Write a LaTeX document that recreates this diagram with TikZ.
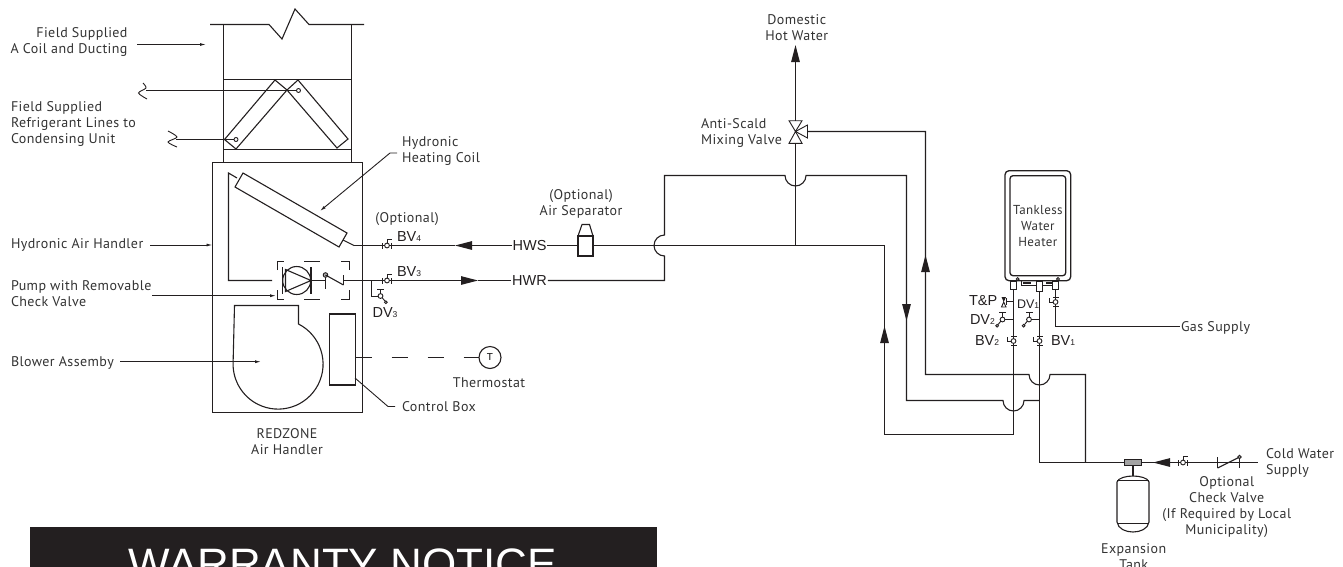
\documentclass[tikz,border=0pt]{standalone}
\usepackage{fontspec}
\setmainfont{Liberation Sans}
\newfontfamily\lblfont[LetterSpace=3.0]{PT Sans}
\usetikzlibrary{arrows.meta}
\definecolor{ink}{HTML}{231F20}
\definecolor{lblgrey}{HTML}{333333}
\tikzset{
    pipe/.style={line width=1.1pt,draw=ink},
    fine/.style={line width=0.9pt,draw=ink},
    leader/.style={fine,-{Latex[length=6pt,width=3pt]}},
    flowtip/.style={pipe,-{Triangle[length=17pt,width=8.5pt]}},
    lbl/.style={font=\lblfont\fontsize{14}{16}\selectfont,text=lblgrey,inner sep=0pt,outer sep=1pt,yshift=-1.5pt},
    vlbl/.style={font=\fontsize{14.5}{16}\selectfont,text=ink,inner sep=0pt,outer sep=1pt},
    ballvalve/.pic={
        \draw[fine] (-4.5,-3) -- (-4.5,3);
        \draw[fine] (4.5,-3) -- (4.5,3);
        \draw[fine,fill=white] (0,0) circle (2.4);
        \draw[fine] (0,2.4) -- (0,6.5) -- (4.5,6.5);
    },
    drainvalve/.pic={
        \draw[fine] (0,2.4) -- (0,7);
        \draw[fine] (-3.5,7) -- (3.5,7);
        \draw[fine,fill=white] (0,0) circle (2.4);
        \draw[fine] (1.7,-1.7) -- (4.6,-5.2);
        \draw[fine,fill=white] (5.4,-6.2) circle (1.4);
    }
}
\newcommand{\sub}[1]{{\fontsize{8.5}{8.5}\selectfont #1}}
\begin{document}
\begin{tikzpicture}[x=1pt,y=1pt]
    \useasboundingbox (0,0) rectangle (1343,-566);
    \clip (0,0) rectangle (1343,-566);

    % duct and A coil
    \draw[pipe] (210,-24.5) -- (269,-24.5) -- (282,-39) -- (295,-9) -- (309,-24.5) -- (364,-24.5);
    \draw[pipe] (223.5,-24.5) -- (223.5,-163);
    \draw[pipe] (351.5,-24.5) -- (351.5,-163);
    \draw[fine] (223.5,-79.5) -- (351.5,-79.5);
    \draw[fine] (223.5,-149.5) -- (351.5,-149.5);
    \draw[pipe] (287,-90) -- (275,-80) -- (224.5,-139.5) -- (236,-149) -- (287,-90);
    \draw[pipe] (287,-90) -- (298,-80) -- (348,-139) -- (337,-148) -- (287,-90);
    \draw[fine] (298.5,-90.5) circle (2);
    \draw[fine] (236,-139.5) circle (2);
    \draw[fine] plot[smooth] coordinates {(143,-83) (146,-88) (138.5,-93) (147,-99)};
    \draw[fine] plot[smooth] coordinates {(168,-131) (177,-137) (168,-142) (177,-147)};
    \draw[fine] (146,-90.5) -- (296.5,-90.5);
    \draw[fine] (176,-139.5) -- (234,-139.5);

    % air handler
    \node[draw=ink,line width=1.1pt,minimum width=150pt,minimum height=250pt,inner sep=0pt,outer sep=0pt] (handler) at (287.5,-287.5) {};
    \draw[pipe] (243,-173) -- (347,-233) -- (339,-247) -- (235,-187) -- cycle;
    \draw[pipe] (237,-178) -- (228.5,-173) -- (228.5,-280.5) -- (272,-280.5);
    \draw[pipe] (343,-240) -- (354,-245.5);
    \draw[pipe] (234.5,-305.5) -- (298.5,-305.5) -- (298.5,-324) arc[start angle=63,end angle=-180,radius=45] -- cycle;
    \node[draw=ink,line width=1.1pt,minimum width=26pt,minimum height=71pt,inner sep=0pt,outer sep=0pt] (ctrlbox) at (342.5,-349.5) {};
    \node[circle,draw=ink,line width=1.1pt,minimum size=22pt,inner sep=0pt,outer sep=0pt,font=\fontsize{10}{10}\selectfont] (tstat) at (490,-357.5) {T};
    \draw[pipe,dash pattern=on 16pt off 20pt] (ctrlbox.east |- tstat) -- (tstat.west);

    % pump and check valve
    \draw[fine] (277.5,-270) -- (277.5,-261.5) -- (284,-261.5);
    \draw[fine] (304,-261.5) -- (320,-261.5);
    \draw[fine] (341,-261.5) -- (349.5,-261.5) -- (349.5,-270);
    \draw[fine] (277.5,-290) -- (277.5,-299.5) -- (284,-299.5);
    \draw[fine] (304,-299.5) -- (320,-299.5);
    \draw[fine] (341,-299.5) -- (349.5,-299.5) -- (349.5,-290);
    \draw[pipe] (296.7,-280.5) circle (14);
    \draw[pipe] (282.5,-267) -- (282.5,-294);
    \draw[pipe] (311,-267) -- (311,-294);
    \draw[pipe] (285.5,-269.5) -- (311,-280.5) -- (285.5,-291.5) -- cycle;
    \draw[pipe] (311,-280.5) -- (325,-280.5);
    \draw[pipe] (325.5,-275) -- (325.5,-289);
    \draw[fine,fill=lblgrey!40] (325.5,-275) circle (2.3);
    \draw[pipe] (325.5,-275) -- (343.5,-285);
    \draw[pipe] (343.5,-275) -- (343.5,-285);

    % supply and return to the heater
    \coordinate (bvfour) at (387,-245.5);
    \coordinate (bvthree) at (387,-280.5);
    \coordinate (hwstip) at (455,-245.5);
    \coordinate (hwrtip) at (478,-280.5);
    \node[vlbl] (hws) at (529.5,-245.5) {HWS};
    \node[vlbl] (hwr) at (529.5,-280.5) {HWR};
    \node[draw=ink,line width=1.1pt,minimum width=15pt,minimum height=20pt,inner sep=0pt,outer sep=0pt] (sep) at (585.5,-246) {};
    \draw[pipe] (sep.north west) -- (582,-224.5) -- (589.5,-224.5) -- (sep.north east);
    \draw[flowtip] (hws.west) -- (hwstip);
    \draw[pipe] (hwstip) -- (354,-245.5);
    \draw[pipe] (343.5,-280.5) -- (bvthree);
    \draw[flowtip] (bvthree) -- (hwrtip);
    \draw[pipe] (hwrtip) -- (hwr.west);
    \draw[pipe] (hws.east) -- (sep.west |- hws);
    \coordinate (hwjoin) at (795.5,-245.5);
    \coordinate (hwcorner) at (884.5,-245.5);
    \coordinate (tpipe) at (1013.5,-434.5);
    \draw[pipe] (sep.east |- hws) -- (hwjoin) -- (hwcorner) -- (884.5,-434.5) -- (tpipe);
    \draw[flowtip] (884.5,-343) -- (884.5,-326);
    \draw[pipe] (hwr.east) -- (664.5,-280.5) -- (664.5,-256) arc[start angle=270,end angle=90,radius=10.5] -- (664.5,-175.5) -- (785,-175.5) arc[start angle=180,end angle=360,radius=10.5] -- (906.5,-175.5) -- (906.5,-400.5) -- (1003,-400.5) arc[start angle=180,end angle=360,radius=10.5] -- (1039.5,-400.5);
    \draw[flowtip] (906.5,-304) -- (906.5,-321);

    % mixing valve
    \coordinate (mixvalve) at (795.5,-131.5);
    \coordinate (dhwtip) at (795.5,-45);
    \draw[flowtip] (795.5,-120.7) -- (dhwtip);
    \draw[pipe] (795.5,-143.3) -- (hwjoin);
    \draw[fine] (mixvalve) -- (789,-120.7) -- (802,-120.7) -- cycle;
    \draw[fine] (mixvalve) -- (789,-143.3) -- (802,-143.3) -- cycle;
    \draw[fine] (mixvalve) -- (807.5,-125) -- (807.5,-138) -- cycle;
    \draw[pipe] (807.5,-131.5) -- (925.5,-131.5) -- (925.5,-374.5) -- (1029,-374.5) arc[start angle=180,end angle=360,radius=10.5] -- (1085.5,-374.5) -- (1085.5,-462.5);
    \draw[flowtip] (925.5,-272) -- (925.5,-255);

    % water heater
    \node[draw=ink,line width=1.3pt,rounded corners=4pt,minimum width=65.7pt,minimum height=110pt,inner sep=0pt,outer sep=0pt] (heater) at (1037.85,-225.7) {};
    \node[draw=ink,line width=1.3pt,rounded corners=3pt,minimum width=55.7pt,minimum height=100pt,inner sep=0pt,outer sep=0pt,align=center,font=\lblfont\fontsize{13}{16}\selectfont,text=lblgrey] (tankless) at (heater) {Tankless\\Water\\Heater};
    \node[fill=white,draw=ink,line width=0.9pt,minimum width=5.7pt,minimum height=7.5pt,inner sep=0pt,outer sep=0pt] (fitl) at (1013.5,-285.2) {};
    \node[fill=white,draw=ink,line width=0.9pt,minimum width=6pt,minimum height=10pt,inner sep=0pt,outer sep=0pt] (fitc) at (1039.5,-286) {};
    \node[fill=white,draw=ink,line width=0.9pt,minimum width=5.3pt,minimum height=7.5pt,inner sep=0pt,outer sep=0pt] (fitr) at (1055.5,-285.2) {};
    \draw[fine] (1017.7,-279) circle (1.4);
    \draw[fine] (1058,-279) circle (1.4);
    \draw[fine] (1021.7,-281) -- (1021.7,-285) -- (fitc.west |- 1021.7,-285);
    \draw[fine] (fitc.east |- 1042,-285) -- (1052,-285);
    \fill[ink] (1023,-281.5) rectangle (1031,-283.5);
    \fill[ink] (1046,-281.5) rectangle (1052,-283.5);
    \coordinate (gasend) at (1180,-326.5);
    \draw[pipe] (fitl.south) -- (tpipe);
    \draw[pipe] (fitc.south) -- (1039.5,-462.5);
    \draw[pipe] (fitr.south) -- (1055.5,-326.5) -- (gasend);
    \draw[pipe] (1039.5,-462.5) -- (1258,-462.5);
    \draw[fine] (1013.5,-319.5) -- (1002.5,-319.5);
    \draw[fine] (1039.5,-319.5) -- (1029,-319.5);
    \draw[fine] (1013.5,-301.7) -- (1006,-301.7);
    \draw[fine] (1006,-298) -- (1006,-305);
    \fill[ink] (1001.5,-297) -- (1006,-297) -- (1003.7,-302) -- cycle;
    \draw[fine] (1001.5,-307) -- (1006,-307) -- (1003.7,-302) -- cycle;

    % valves
    \pic at (bvfour) {ballvalve};
    \pic at (bvthree) {ballvalve};
    \pic at (1183,-462.5) {ballvalve};
    \pic[rotate=90] at (1055.5,-302) {ballvalve};
    \pic[rotate=90] at (1013.5,-341) {ballvalve};
    \pic[rotate=90] at (1039.5,-341) {ballvalve};
    \draw[fine] (371.5,-280.5) -- (371.5,-296) -- (380.5,-296);
    \pic at (380.5,-296) {drainvalve};
    \pic[xscale=-1] at (1002.5,-319.5) {drainvalve};
    \pic[xscale=-1] at (1029,-319.5) {drainvalve};

    % check valve on the cold water line
    \draw[pipe] (1217.5,-457) -- (1217.5,-468);
    \draw[pipe] (1217.5,-468) -- (1239.5,-457);
    \draw[pipe] (1239.5,-457) -- (1239.5,-468);
    \draw[fine,fill=lblgrey!40] (1239.5,-457) circle (1.8);
    \coordinate (cwtip) at (1153,-462.5);
    \draw[flowtip] (1170,-462.5) -- (cwtip);

    % expansion tank
    \node[fill=lblgrey!45,draw=ink,line width=0.9pt,minimum width=17.5pt,minimum height=6.5pt,inner sep=0pt,outer sep=0pt] (tankfit) at (1133,-462.2) {};
    \draw[pipe] (tankfit.south) -- (1133,-476);
    \draw[pipe] (1117,-482) .. controls (1118,-478) and (1126,-476) .. (1133,-476) .. controls (1140,-476) and (1148,-478) .. (1149,-482) -- (1149,-522) .. controls (1148,-529) and (1140,-532) .. (1133,-532) .. controls (1126,-532) and (1118,-529) .. (1117,-522) -- cycle;
    \draw[fine] (1117,-480.5) -- (1149,-480.5);
    \draw[fine] (1117,-523.5) -- (1149,-523.5);

    % labels
    \node[lbl,align=right,anchor=east] (lblcoil) at (128.5,-40) {Field Supplied\\A Coil and Ducting};
    \coordinate (coiltip) at (206,-44.5);
    \draw[leader] (137,-44.5) -- (coiltip);
    \node[lbl,align=left,anchor=west] (lblref) at (10,-122) {Field Supplied\\Refrigerant Lines to\\Condensing Unit};
    \node[lbl,align=left,anchor=west] (lblair) at (10,-243) {Hydronic Air Handler};
    \draw[leader] (150,-245) -- (handler.west |- 150,-245);
    \node[lbl,align=left,anchor=west] (lblpump) at (10,-292.5) {Pump with Removable\\Check Valve};
    \draw[leader] (152,-295.7) -- (276,-295.7);
    \node[lbl,align=left,anchor=west] (lblblow) at (10,-361) {Blower Assemby};
    \draw[leader] (120,-361.7) -- (261,-361.7);
    \node[lbl,align=left,anchor=west] (lblheat) at (401,-150) {Hydronic\\Heating Coil};
    \draw[leader] (397,-153) -- (390,-153) -- (320,-211);
    \node[lbl,align=center] (lblopt) at (407,-218) {(Optional)};
    \node[lbl,align=center] (lblsep) at (581,-202.5) {(Optional)\\Air Separator};
    \node[lbl,align=center] (lbldhw) at (796.7,-26) {Domestic\\Hot Water};
    \node[lbl,align=left,anchor=west] (lblmix) at (700,-131) {Anti-Scald\\Mixing Valve};
    \node[lbl,anchor=west] (lblgas) at (gasend) {Gas Supply};
    \node[lbl,align=left,anchor=west] (lblcold) at (1265,-461) {Cold Water\\Supply};
    \node[lbl,align=center] (lblcheck) at (1226.7,-506) {Optional\\Check Valve\\(If Required by Local\\Municipality)};
    \node[lbl,align=center] (lbltank) at (1133.7,-555) {Expansion\\Tank};
    \node[lbl,align=center] (lblred) at (287,-440.5) {REDZONE\\Air Handler};
    \node[lbl] (lbltstat) at (489,-381) {Thermostat};
    \node[lbl,anchor=west] (lblctrl) at (401,-405) {Control Box};
    \draw[fine] (355,-378) -- (388,-406.5) -- (395,-406.5);

    \node[vlbl,anchor=west] (bvfourlbl) at (396,-237) {BV\sub{4}};
    \node[vlbl,anchor=west] (bvthreelbl) at (396,-272) {BV\sub{3}};
    \node[vlbl] (dvthreelbl) at (385,-313) {DV\sub{3}};
    \node[vlbl,anchor=west] (tplbl) at (968,-301) {T\&P};
    \node[vlbl,anchor=west,font=\fontsize{12.5}{16}\selectfont] (dvonelbl) at (1016,-304) {DV\sub{1}};
    \node[vlbl,anchor=west] (dvtwolbl) at (969,-320) {DV\sub{2}};
    \node[vlbl,anchor=west] (bvtwolbl) at (974,-341) {BV\sub{2}};
    \node[vlbl,anchor=west] (bvonelbl) at (1050,-341) {BV\sub{1}};

    % notice bar
    \node[fill=ink,minimum width=627pt,minimum height=60pt,inner sep=0pt,outer sep=0pt,anchor=north west] (notice) at (30,-527) {};
    \node[font=\fontsize{44}{44}\selectfont,text=white,inner sep=0pt,anchor=base] (noticetxt) at (342.5,-579) {WARRANTY NOTICE};
\end{tikzpicture}
\end{document}
